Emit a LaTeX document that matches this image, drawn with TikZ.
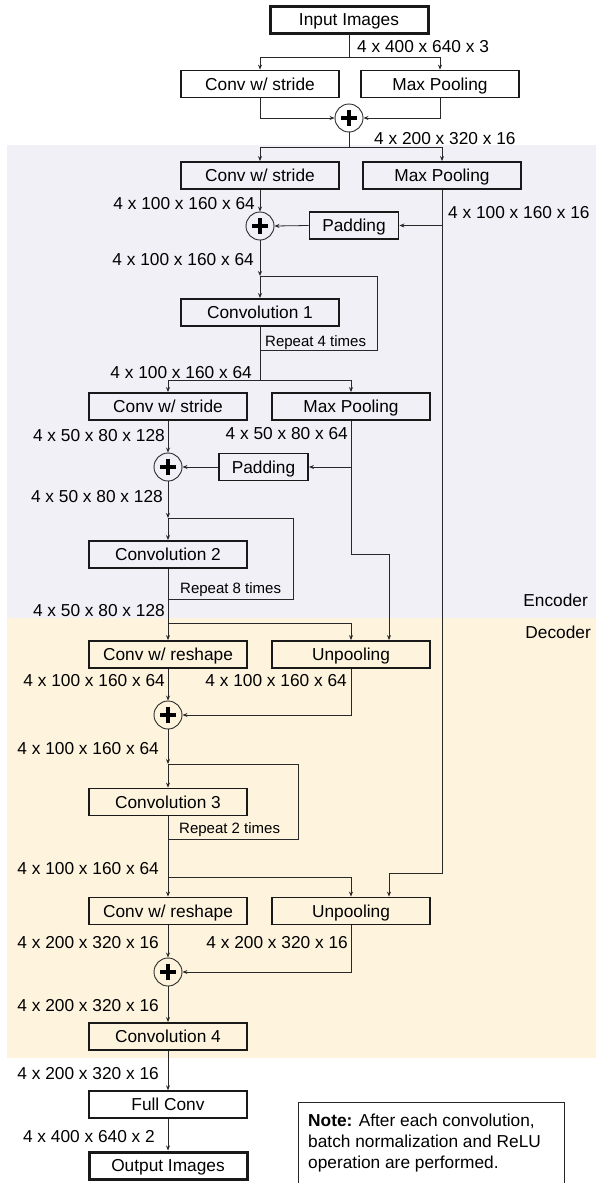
\documentclass[tikz,border=0pt]{standalone}
\usepackage{fontspec}
\setmainfont{Liberation Sans}
\usetikzlibrary{arrows.meta,calc}
\definecolor{encbg}{RGB}{240,240,246}
\definecolor{decbg}{RGB}{254,244,222}
\definecolor{ln}{RGB}{40,40,40}
\newcommand\myfont{\fontsize{17.3}{21}\selectfont}
\newcommand\myrep{\fontsize{15}{18}\selectfont}
\begin{document}
\begin{tikzpicture}[x=1pt,y=-1pt,
  box/.style={draw=black!90,line width=1.8pt,minimum width=158pt,minimum height=27pt,inner sep=0pt,font=\myfont,text height=12.4pt,text depth=0pt},
  iobox/.style={box,line width=3pt},
  padbox/.style={box,minimum width=89pt},
  addc/.style={circle,draw=ln,line width=0.9pt,minimum size=28pt,inner sep=0pt,
    path picture={
      \fill[black] ([xshift=-8pt,yshift=-2pt]path picture bounding box.center) rectangle ([xshift=8pt,yshift=2pt]path picture bounding box.center);
      \fill[black] ([xshift=-2pt,yshift=-8pt]path picture bounding box.center) rectangle ([xshift=2pt,yshift=8pt]path picture bounding box.center);}},
  lbl/.style={inner sep=0pt,font=\myfont},
  rep/.style={inner sep=0pt,font=\myrep},
  con/.style={draw=ln,line width=0.8pt},
  arr/.style={con,-{Stealth[length=5pt,width=4pt]}},
]
\useasboundingbox (0,0) rectangle (596,1183);
% backgrounds
\fill[encbg] (7,145) rectangle (596,618);
\fill[decbg] (7,618) rectangle (596,1058);
\node[lbl,anchor=base east] (enc) at (588,606) {Encoder};
\node[lbl,anchor=base east] (dec) at (591,638) {Decoder};

% nodes
\node[iobox] (inp) at (349,19.5) {Input Images};
\node[box] (cs1) at (260,84) {Conv w/ stride};
\node[box] (mp1) at (440,84) {Max Pooling};
\node[addc] (add1) at (349,118) {};
\node[box] (cs2) at (260,175.5) {Conv w/ stride};
\node[box] (mp2) at (442,175.5) {Max Pooling};
\node[addc] (add2) at (260,226) {};
\node[padbox] (pad1) at (354,225.5) {Padding};
\node[box] (conv1) at (260,312.5) {Convolution 1};
\node[box] (cs3) at (168,406.5) {Conv w/ stride};
\node[box] (mp3) at (351,406.5) {Max Pooling};
\node[addc] (add3) at (168,467) {};
\node[padbox] (pad2) at (263.5,467) {Padding};
\node[box] (conv2) at (168,554.5) {Convolution 2};
\node[box] (cr1) at (168,654.5) {Conv w/ reshape};
\node[box] (up1) at (351,654.5) {Unpooling};
\node[addc] (add4) at (168,715) {};
\node[box] (conv3) at (168,802) {Convolution 3};
\node[box] (cr2) at (168,911) {Conv w/ reshape};
\node[box] (up2) at (351,911) {Unpooling};
\node[addc] (add5) at (168,972) {};
\node[box] (conv4) at (168,1036.5) {Convolution 4};
\node[box,line width=1.4pt] (full) at (168,1104.5) {Full Conv};
\node[iobox] (out) at (168,1165.5) {Output Images};

% coordinates
\coordinate (j1) at (349,57);
\coordinate (j2) at (349,147);
\coordinate (t1) at (260,276);
\coordinate (l1a) at (377,276);
\coordinate (l1b) at (377,350);
\coordinate (l1c) at (260,350);
\coordinate (j3) at (260,380);
\coordinate (t2) at (168,518);
\coordinate (l2a) at (293,518);
\coordinate (l2b) at (293,599);
\coordinate (l2c) at (168,599);
\coordinate (j4) at (168,623);
\coordinate (t3) at (168,764);
\coordinate (l3a) at (298.5,764);
\coordinate (l3b) at (298.5,839);
\coordinate (l3c) at (168,839);
\coordinate (j5) at (168,877);
\coordinate (b1) at (442,873);
\coordinate (b2) at (389,873);
\coordinate (b3) at (351,554);
\coordinate (b4) at (389,554);

% connectors
\draw[con] (inp.south) -- (j1);
\draw[arr] (j1) -| (cs1.north);
\draw[arr] (j1) -| (mp1.north);
\draw[arr] (cs1.south) |- (add1.west);
\draw[arr] (mp1.south) |- (add1.east);
\draw[con] (add1.south) -- (j2);
\draw[arr] (j2) -| (cs2.north);
\draw[arr] (j2) -| (mp2.north);
\draw[arr] (cs2.south) -- (add2.north);
\draw[con] (mp2.south) -- (b1) -- (b2);
\draw[arr] (b2) -- (b2 |- up2.north);
\draw[arr] (mp2.south |- pad1.east) -- (pad1.east);
\draw[arr] (pad1.west) -- (add2.east);
\draw[arr] (add2.south) -- (t1);
\draw[arr] (t1) -- (conv1.north);
\draw[con] (t1) -- (l1a) -- (l1b) -- (l1c);
\draw[con] (conv1.south) -- (j3);
\draw[arr] (j3) -| (cs3.north);
\draw[arr] (j3) -| (mp3.north);
\draw[arr] (cs3.south) -- (add3.north);
\draw[con] (mp3.south) -- (b3) -- (b4);
\draw[arr] (b4) -- (b4 |- up1.north);
\draw[arr] (mp3.south |- pad2.east) -- (pad2.east);
\draw[arr] (pad2.west) -- (add3.east);
\draw[arr] (add3.south) -- (t2);
\draw[arr] (t2) -- (conv2.north);
\draw[con] (t2) -- (l2a) -- (l2b) -- (l2c);
\draw[con] (conv2.south) -- (j4);
\draw[arr] (j4) -- (cr1.north);
\draw[arr] (j4) -| (up1.north);
\draw[arr] (cr1.south) -- (add4.north);
\draw[arr] (up1.south) |- (add4.east);
\draw[arr] (add4.south) -- (t3);
\draw[arr] (t3) -- (conv3.north);
\draw[con] (t3) -- (l3a) -- (l3b) -- (l3c);
\draw[con] (conv3.south) -- (j5);
\draw[arr] (j5) -- (cr2.north);
\draw[arr] (j5) -| (up2.north);
\draw[arr] (cr2.south) -- (add5.north);
\draw[arr] (up2.south) |- (add5.east);
\draw[arr] (add5.south) -- (conv4.north);
\draw[arr] (conv4.south) -- (full.north);
\draw[arr] (full.south) -- (out.north);

% labels
\node[lbl,anchor=base west] (s1) at (357,52) {4 x 400 x 640 x 3};
\node[lbl,anchor=base west] (s2) at (374,144) {4 x 200 x 320 x 16};
\node[lbl,anchor=base east] (s3) at (255,209) {4 x 100 x 160 x 64};
\node[lbl,anchor=base west] (s4) at (448,218) {4 x 100 x 160 x 16};
\node[lbl,anchor=base east] (s5) at (254,265) {4 x 100 x 160 x 64};
\node[rep,anchor=base west] (r1) at (265,346) {Repeat 4 times};
\node[lbl,anchor=base east] (s6) at (252,378) {4 x 100 x 160 x 64};
\node[lbl,anchor=base east] (s7) at (165,441) {4 x 50 x 80 x 128};
\node[lbl,anchor=base east] (s8) at (348,439) {4 x 50 x 80 x 64};
\node[lbl,anchor=base east] (s9) at (163,502) {4 x 50 x 80 x 128};
\node[rep,anchor=base west] (r2) at (180,593) {Repeat 8 times};
\node[lbl,anchor=base east] (s10) at (165,616) {4 x 50 x 80 x 128};
\node[lbl,anchor=base east] (s11) at (165,686) {4 x 100 x 160 x 64};
\node[lbl,anchor=base east] (s12) at (347,686) {4 x 100 x 160 x 64};
\node[lbl,anchor=base east] (s13) at (159,754) {4 x 100 x 160 x 64};
\node[rep,anchor=base west] (r3) at (179,833) {Repeat 2 times};
\node[lbl,anchor=base east] (s14) at (159,874) {4 x 100 x 160 x 64};
\node[lbl,anchor=base east] (s15) at (159,948) {4 x 200 x 320 x 16};
\node[lbl,anchor=base east] (s16) at (348,948) {4 x 200 x 320 x 16};
\node[lbl,anchor=base east] (s17) at (159,1011) {4 x 200 x 320 x 16};
\node[lbl,anchor=base east] (s18) at (159,1079) {4 x 200 x 320 x 16};
\node[lbl,anchor=base east] (s19) at (155,1142) {4 x 400 x 640 x 2};

% note
\node[draw=black!85,line width=1pt,anchor=north west,minimum width=266pt,minimum height=95pt,inner sep=0pt] (notebox) at (298,1102) {};
\node[lbl,anchor=north west,align=left] (note) at (308,1114) {\textbf{Note:} After each convolution,\\batch normalization and ReLU\\operation are performed.};
\end{tikzpicture}
\end{document}
